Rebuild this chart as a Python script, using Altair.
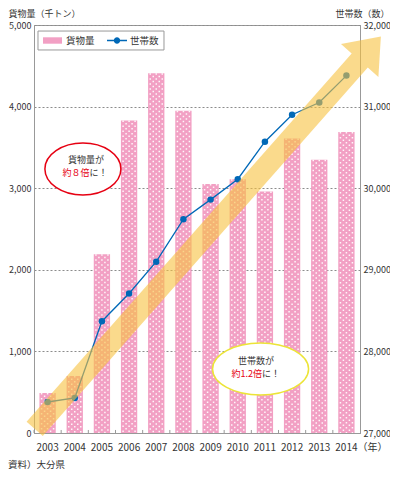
import altair as alt
import pandas as pd

# ---------------- data ----------------
years = ["2003", "2004", "2005", "2006", "2007", "2008",
         "2009", "2010", "2011", "2012", "2013", "2014"]
freight = [490, 700, 2190, 3830, 4410, 3950, 3050, 3110, 2960, 3610, 3350, 3690]          # 千トン
households = [27380, 27430, 28370, 28710, 29100, 29620, 29860, 30110, 30570, 30900, 31050, 31380]
series_names = ["貨物量", "世帯数"]
left_ticks = [0, 1000, 2000, 3000, 4000, 5000]
right_ticks = [27000, 28000, 29000, 30000, 31000, 32000]

# annotation anchors, in (year-slot index, left-axis value) space
arrow_anchor_x = [0.5]
arrow_anchor_v = [0]
ellipse_x = [1.80, 8.34]
ellipse_v = [3235, 784]
note_line1 = ["貨物量が", "世帯数が"]
note_line1_x = [1.914, 8.17]
note_line1_v = [3346, 882]
note_red = ["約８倍", "約1.2倍"]
note_rest = ["に！", "に！"]
note_line2_x = [2.043, 8.39]
note_line2_v = [3186, 723]
legend_box_x = [0.147, 4.785]
legend_box_v = [4926, 4694]

# ---------------- style ----------------
FONT = "Noto Sans CJK JP"
PINK = "#f2a0c4"
BLUE = "#0068b7"
RED = "#e60012"
YEL = "#ece437"
TXT = "#333333"
GRID = "#8c8c8c"
W, H = 326, 408
STEP = W / 12

ARROW = ("M-21.0,-11.3L304.1,-379.6L293.4,-389.0L333.3,-396.5"
         "L330.8,-356.0L320.2,-365.4L-4.8,2.9Z")


def ellipse(rx, ry):
    return f"M{-rx},0A{rx},{ry} 0 1,0 {rx},0A{rx},{ry} 0 1,0 {-rx},0Z"


LEG_RECT = "M-1,-0.32L0.9,-0.32L0.9,0.32L-1,0.32Z"
LEG_LINE = ("M-1,-0.07L1,-0.07L1,0.07L-1,0.07Z"
            "M-0.32,0A0.32,0.32 0 1,1 0.32,0A0.32,0.32 0 1,1 -0.32,0Z")

bar_df = pd.DataFrame({"年": years, "値": freight, "系列": series_names[0]})
line_df = pd.DataFrame({"年": years, "値": households, "系列": series_names[1]})
arrow_df = pd.DataFrame({"xi": arrow_anchor_x, "v": arrow_anchor_v})
ell_df = pd.DataFrame({"xi": ellipse_x, "v": ellipse_v})
l1_df = pd.DataFrame({"xi": note_line1_x, "v": note_line1_v, "t": note_line1})
l2r_df = pd.DataFrame({"xi": note_line2_x, "v": note_line2_v, "t": note_red})
l2b_df = pd.DataFrame({"xi": note_line2_x, "v": note_line2_v, "t": note_rest})
box_df = pd.DataFrame({"x1": [legend_box_x[0]], "x2": [legend_box_x[1]],
                       "v1": [legend_box_v[0]], "v2": [legend_box_v[1]]})

# ---------------- scales ----------------
band_scale = alt.Scale(type="band", domain=years, paddingInner=0.4, paddingOuter=0.2)
point_scale = alt.Scale(type="point", domain=years, padding=0.5)
left_scale = alt.Scale(domain=[0, 5000], nice=False, zero=True)
right_scale = alt.Scale(domain=[27000, 32000], nice=False, zero=False)
idx_scale = alt.Scale(domain=[0, 12], nice=False, zero=False)

leg_common = dict(title=None, orient="none", direction="horizontal", padding=0,
                  symbolSize=400, symbolStrokeWidth=0, symbolOpacity=1, labelOffset=3,
                  labelFont=FONT, labelFontSize=9.5, labelColor=TXT)
bar_legend = alt.Legend(legendX=9, legendY=5.5, symbolType=LEG_RECT, **leg_common)
line_legend = alt.Legend(legendX=73, legendY=5.5, symbolType=LEG_LINE, **leg_common)

x_axis = alt.Axis(
    title="（年）", titleAngle=0, titleAlign="left", titleBaseline="middle",
    titleX=323, titleY=14.5, titleFontSize=10, titleFontWeight="normal",
    labelAngle=0, labelFontSize=10, labelPadding=9, ticks=False,
    domainColor="#999999", grid=False,
)

left_axis = alt.Axis(
    values=left_ticks, format=",d", labelFontSize=9, labelPadding=3,
    ticks=False, domainColor="#999999", grid=True, gridColor=GRID, gridDash=[2, 2],
    title="貨物量（千トン）", titleAngle=0, titleAlign="left", titleBaseline="middle",
    titleX=-26, titleY=-12, titleFontSize=9, titleFontWeight="normal",
)
right_axis = alt.Axis(
    orient="right", values=right_ticks, format=",d", labelFontSize=9,
    labelPadding=3, ticks=False, grid=False, domainColor="#999999",
    title="世帯数（数）", titleAngle=0, titleAlign="right", titleBaseline="middle",
    titleX=29, titleY=-12, titleFontSize=9, titleFontWeight="normal",
)

# ---------------- layers ----------------
bars = alt.Chart(bar_df).mark_bar().encode(
    x=alt.X("年:N", scale=band_scale, axis=x_axis),
    y=alt.Y("値:Q", scale=left_scale, axis=left_axis),
    color=alt.Color("系列:N", scale=alt.Scale(domain=[series_names[0]], range=[PINK]),
                    legend=bar_legend),
)

dot_layers = []
for off, dash_off in [(-6, 0), (0, 0), (6, 0), (-3, 2.5), (3, 2.5)]:
    dot_layers.append(
        alt.Chart(bar_df).mark_rule(
            color="white", strokeWidth=1.5, strokeDash=[1.5, 3.5],
            strokeDashOffset=dash_off, xOffset=off, opacity=0.9,
        ).encode(
            x=alt.X("年:N", scale=point_scale, axis=None),
            y=alt.Y("値:Q", scale=left_scale, axis=None),
            y2=alt.datum(0),
        )
    )

xticks = alt.Chart(bar_df).mark_rule(color="#999999", xOffset=-STEP / 2).encode(
    x=alt.X("年:N", scale=point_scale, axis=None),
    y=alt.Y(datum=0, scale=left_scale, axis=None),
    y2=alt.datum(37),
)

line = alt.Chart(line_df).mark_line(strokeWidth=1.3, color=BLUE).encode(
    x=alt.X("年:N", scale=point_scale, axis=None),
    y=alt.Y("値:Q", scale=right_scale, axis=right_axis),
)
points = alt.Chart(line_df).mark_point(filled=True, size=42, opacity=1).encode(
    x=alt.X("年:N", scale=point_scale, axis=None),
    y=alt.Y("値:Q", scale=right_scale, axis=None),
    fill=alt.Fill("系列:N", scale=alt.Scale(domain=[series_names[1]], range=[BLUE]),
                  legend=line_legend),
)

ax = alt.X("xi:Q", scale=idx_scale, axis=None)
ay = alt.Y("v:Q", scale=left_scale, axis=None)

legend_box = alt.Chart(box_df).mark_rect(
    fill="white", stroke="#999999", strokeWidth=1,
).encode(
    x=alt.X("x1:Q", scale=idx_scale, axis=None), x2="x2:Q",
    y=alt.Y("v1:Q", scale=left_scale, axis=None), y2="v2:Q",
)

arrow = alt.Chart(arrow_df).mark_point(
    shape=ARROW, size=4, filled=True, fill="#f7c13f", fillOpacity=0.6, strokeWidth=0,
    opacity=1,
).encode(x=ax, y=ay)

red_ell = alt.Chart(ell_df.iloc[[0]]).mark_point(
    shape=ellipse(38, 26), size=4, filled=True, fill="white", opacity=1,
    stroke=RED, strokeWidth=1.5,
).encode(x=ax, y=ay)
yel_ell = alt.Chart(ell_df.iloc[[1]]).mark_point(
    shape=ellipse(48, 26), size=4, filled=True, fill="white", opacity=1,
    stroke=YEL, strokeWidth=1.5,
).encode(x=ax, y=ay)

txt_kw = dict(font=FONT, fontSize=9, baseline="middle")
line1 = alt.Chart(l1_df).mark_text(color=TXT, align="center", **txt_kw).encode(x=ax, y=ay, text="t:N")
line2r = alt.Chart(l2r_df).mark_text(color=RED, align="right", **txt_kw).encode(x=ax, y=ay, text="t:N")
line2b = alt.Chart(l2b_df).mark_text(color=TXT, align="left", **txt_kw).encode(x=ax, y=ay, text="t:N")

chart = alt.layer(
    bars, *dot_layers, xticks, line, points, legend_box, arrow,
    red_ell, yel_ell, line1, line2r, line2b
).resolve_scale(
    x="independent", y="independent", color="independent", fill="independent"
).properties(
    width=W, height=H,
    autosize=alt.AutoSizeParams(type="none"),
    padding={"left": 26, "top": 17, "right": 30, "bottom": 36},
    title=alt.TitleParams(
        text="資料）大分県", orient="bottom", anchor="start", font=FONT,
        fontSize=9.5, fontWeight="normal", color=TXT, offset=7,
    ),
).configure_view(
    stroke="#999999", strokeWidth=1,
).configure_axis(
    labelFont=FONT, titleFont=FONT, labelColor=TXT, titleColor=TXT,
)

chart.save("out.html", embed_options={"renderer": "svg", "actions": False})
